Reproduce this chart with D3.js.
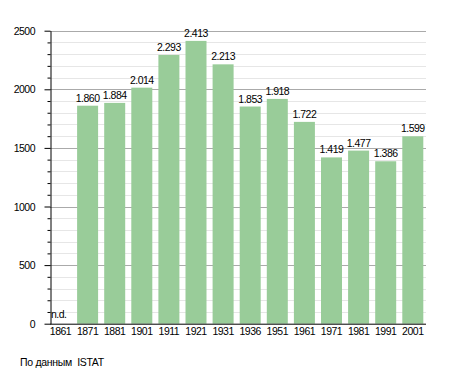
<!DOCTYPE html>
<html>
<head>
<meta charset="utf-8">
<script src="https://cdn.jsdelivr.net/npm/d3@7"></script>
<style>
  body { margin: 0; background: #fff; }
  svg text { font-family: "Liberation Sans", Arial, sans-serif; font-size: 10.5px; fill: #000; letter-spacing: -0.5px; }
</style>
</head>
<body>
<div id="chart"></div>
<script>
// census years and population (null = no data)
const years = ["1861", "1871", "1881", "1901", "1911", "1921", "1931", "1936", "1951", "1961", "1971", "1981", "1991", "2001"];
const population = [null, 1860, 1884, 2014, 2293, 2413, 2213, 1853, 1918, 1722, 1419, 1477, 1386, 1599];
const yTicks = [0, 500, 1000, 1500, 2000, 2500];
const sourceNote = "По данным  ISTAT";

const width = 455;
const height = 373;
const plotLeft = 50;
const plotRight = 426;
const plotTop = 30.7;
const plotBottom = 323.7;
const barColor = "#99cc99";

const svg = d3.select("#chart").append("svg")
    .attr("width", width)
    .attr("height", height);

const x = d3.scaleBand()
    .domain(years)
    .range([plotLeft, 423.3])
    .paddingInner(0.225)
    .paddingOuter(0);

const y = d3.scaleLinear()
    .domain([0, 2500])
    .range([plotBottom, plotTop]);

// minor grid every 100
const minor = d3.range(100, 2500, 100).filter(function(v) { return v % 500 != 0; });
svg.append("g")
    .selectAll("line")
    .data(minor)
    .join("line")
    .attr("x1", plotLeft).attr("x2", plotRight)
    .attr("y1", function(d) { return Math.round(y(d)) + 0.5; })
    .attr("y2", function(d) { return Math.round(y(d)) + 0.5; })
    .attr("stroke", "#e6e6e6");

svg.append("g")
    .selectAll("line")
    .data(yTicks.slice(1))
    .join("line")
    .attr("x1", plotLeft).attr("x2", plotRight)
    .attr("y1", function(d) { return Math.round(y(d)) + 0.5; })
    .attr("y2", function(d) { return Math.round(y(d)) + 0.5; })
    .attr("stroke", "#aaaaaa");

// bars
const rows = years.map(function(yr, i) { return { year: yr, value: population[i] }; });
const withData = rows.filter(function(d) { return d.value != null; });

svg.append("g")
    .attr("fill", barColor)
    .selectAll("rect")
    .data(withData)
    .join("rect")
    .attr("x", function(d) { return x(d.year); })
    .attr("y", function(d) { return y(d.value); })
    .attr("width", x.bandwidth())
    .attr("height", function(d) { return plotBottom - y(d.value); });

const fmt = function(v) { return d3.format(",")(v).replace(",", "."); };

svg.append("g")
    .selectAll("text")
    .data(withData)
    .join("text")
    .attr("x", function(d) { return x(d.year) + x.bandwidth() / 2; })
    .attr("y", function(d) { return y(d.value) - 4; })
    .attr("text-anchor", "middle")
    .text(function(d) { return fmt(d.value); });

rows.filter(function(d) { return d.value == null; }).forEach(function(d) {
    svg.append("text")
        .attr("x", x(d.year) + 1)
        .attr("y", plotBottom - 6)
        .text("n.d.");
});

// y axis
const yAxis = d3.axisLeft(y)
    .tickValues(d3.range(0, 2600, 100))
    .tickSize(0)
    .tickFormat("");
const yg = svg.append("g").attr("transform", "translate(" + (plotLeft + 0.5) + ",0)");
yg.call(yAxis);
yg.select(".domain").attr("stroke", "#000");
yg.selectAll(".tick line")
    .attr("x2", function(d) { return d % 500 == 0 ? -6 : -3; })
    .attr("stroke", "#000");
yg.selectAll(".tick")
    .filter(function(d) { return d % 500 == 0; })
    .append("text")
    .attr("x", -15.5)
    .attr("dy", "0.35em")
    .attr("text-anchor", "end")
    .text(function(d) { return d; });

// baseline
svg.append("line")
    .attr("x1", plotLeft).attr("x2", plotRight)
    .attr("y1", plotBottom + 0.5).attr("y2", plotBottom + 0.5)
    .attr("stroke", "#000");

// x labels
svg.append("g")
    .selectAll("text")
    .data(years)
    .join("text")
    .attr("x", function(d) { return x(d) + x.bandwidth() / 2; })
    .attr("y", 334.5)
    .attr("text-anchor", "middle")
    .text(function(d) { return d; });

svg.append("text")
    .attr("x", 20)
    .attr("y", 366)
    .style("letter-spacing", "-0.3px")
    .attr("xml:space", "preserve")
    .text(sourceNote);
</script>
</body>
</html>
